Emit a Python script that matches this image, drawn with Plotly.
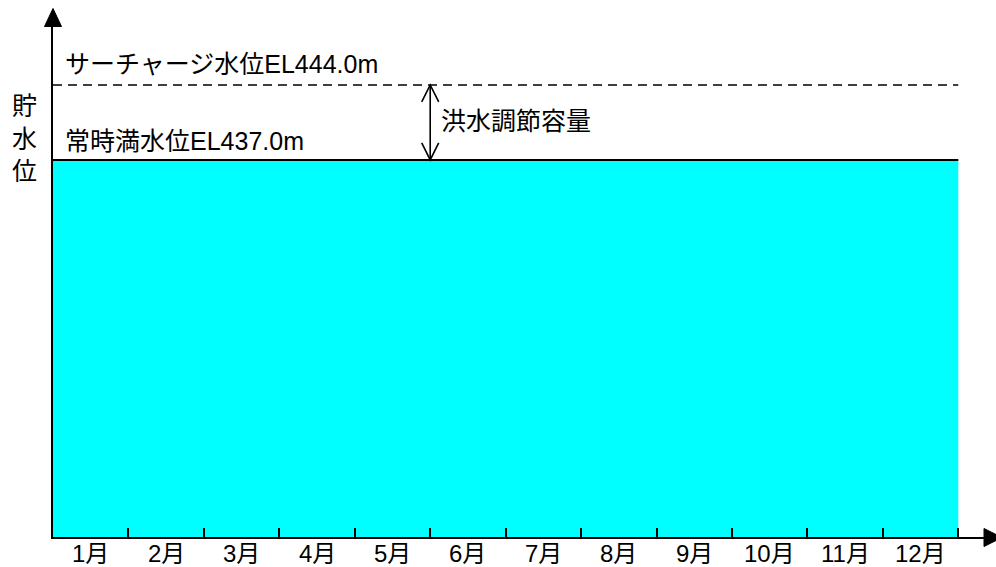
import plotly.graph_objects as go

# ---- data ----
months = ["1月", "2月", "3月", "4月", "5月", "6月", "7月", "8月", "9月", "10月", "11月", "12月"]
month_start = [0, 1, 2, 3, 4, 5, 6, 7, 8, 9, 10, 11]
month_end = [1, 2, 3, 4, 5, 6, 7, 8, 9, 10, 11, 12]
surcharge_level = 444.0
normal_level = 437.0
surcharge_label = "サーチャージ水位EL444.0m"
normal_label = "常時満水位EL437.0m"
flood_label = "洪水調節容量"
y_title = ["貯", "水", "位"]
flood_arrow_month = 5  # boundary between 5月 and 6月

# ---- layout geometry ----
W, H = 996, 567
L, R, T, B = 53, 11, 26, 30
plot_w = W - L - R
plot_h = H - T - B
x_range = [0, 12.354]
y_range = [401.81, 449.5]

FONT = "Arial, 'Liberation Sans', 'Noto Sans CJK JP', sans-serif"


def px_x(p):
    return (p - L) / plot_w


def px_y(p):
    return (H - B - p) / plot_h


x_mid = [(a + b) / 2 for a, b in zip(month_start, month_end)]
x0, x1 = month_start[0], month_end[-1]

fig = go.Figure()

# normal water level: filled reservoir
fig.add_trace(go.Scatter(
    x=[x0, x1], y=[normal_level, normal_level], mode="lines",
    line=dict(color="black", width=2), fill="tozeroy", fillcolor="#00FFFF",
    hoverinfo="skip", showlegend=False))

# surcharge water level: dashed line
fig.add_trace(go.Scatter(
    x=[x0, x1], y=[surcharge_level, surcharge_level], mode="lines",
    line=dict(color="black", width=1.6, dash="9px,6px"),
    hoverinfo="skip", showlegend=False))

# double arrow for flood control capacity
mpx = (x_range[1] - x_range[0]) / plot_w   # months per pixel
ypx = (y_range[1] - y_range[0]) / plot_h   # metres per pixel
ax = flood_arrow_month
hw, hl = 8.5 * mpx, 17 * ypx
shapes = [
    dict(type="line", xref="x", yref="y", x0=ax, x1=ax,
         y0=normal_level, y1=surcharge_level, line=dict(color="black", width=1.6)),
    dict(type="path", xref="x", yref="y",
         path=f"M {ax-hw},{surcharge_level-hl} L {ax},{surcharge_level} L {ax+hw},{surcharge_level-hl}",
         line=dict(color="black", width=1.6)),
    dict(type="path", xref="x", yref="y",
         path=f"M {ax-hw},{normal_level+hl} L {ax},{normal_level} L {ax+hw},{normal_level+hl}",
         line=dict(color="black", width=1.6)),
    # axis arrowheads
    dict(type="path", xref="paper", yref="paper",
         path=f"M {px_x(44.5)},{px_y(26.5)} L {px_x(53)},{px_y(8.5)} L {px_x(61.5)},{px_y(26.5)} Z",
         fillcolor="black", line=dict(color="black", width=1)),
    dict(type="path", xref="paper", yref="paper",
         path=f"M {px_x(984)},{px_y(528.5)} L {px_x(1002)},{px_y(537.5)} L {px_x(984)},{px_y(546.5)} Z",
         fillcolor="black", line=dict(color="black", width=1)),
]

annotations = [
    dict(text=surcharge_label, x=x0, y=surcharge_level, xref="x", yref="y",
         xanchor="left", yanchor="middle", xshift=10, yshift=21, showarrow=False,
         font=dict(size=25, color="black", family=FONT)),
    dict(text=normal_label, x=x0, y=normal_level, xref="x", yref="y",
         xanchor="left", yanchor="middle", xshift=10, yshift=19, showarrow=False,
         font=dict(size=25, color="black", family=FONT)),
    dict(text=flood_label, x=ax, y=(surcharge_level + normal_level) / 2, xref="x", yref="y",
         xanchor="left", yanchor="middle", xshift=9, yshift=1, showarrow=False,
         font=dict(size=25, color="black", family=FONT)),
    dict(text="<br>".join(y_title), x=px_x(24), y=px_y(138), xref="paper", yref="paper",
         xanchor="center", yanchor="middle", showarrow=False,
         font=dict(size=25, color="black", family=FONT)),
]
# month labels under the x axis, centred in each month
for xm, m in zip(x_mid, months):
    annotations.append(dict(text=m, x=xm, y=0, xref="x", yref="paper",
                            xanchor="center", yanchor="middle", yshift=-16,
                            showarrow=False,
                            font=dict(size=24, color="black", family=FONT)))

fig.update_layout(
    width=W, height=H,
    margin=dict(l=L, r=R, t=T, b=B, pad=0, autoexpand=False),
    paper_bgcolor="white", plot_bgcolor="white",
    shapes=shapes, annotations=annotations,
    xaxis=dict(range=x_range, showgrid=False, zeroline=False, automargin=False,
               showline=True, linecolor="black", linewidth=2,
               tickmode="array", tickvals=month_end, showticklabels=False,
               ticks="inside", ticklen=9, tickwidth=2, tickcolor="black",
               fixedrange=True),
    yaxis=dict(range=y_range, showgrid=False, zeroline=False, automargin=False,
               showline=True, linecolor="black", linewidth=2,
               showticklabels=False, ticks="", fixedrange=True),
    showlegend=False,
)

fig.write_html("out.html", config={"displayModeBar": False})
